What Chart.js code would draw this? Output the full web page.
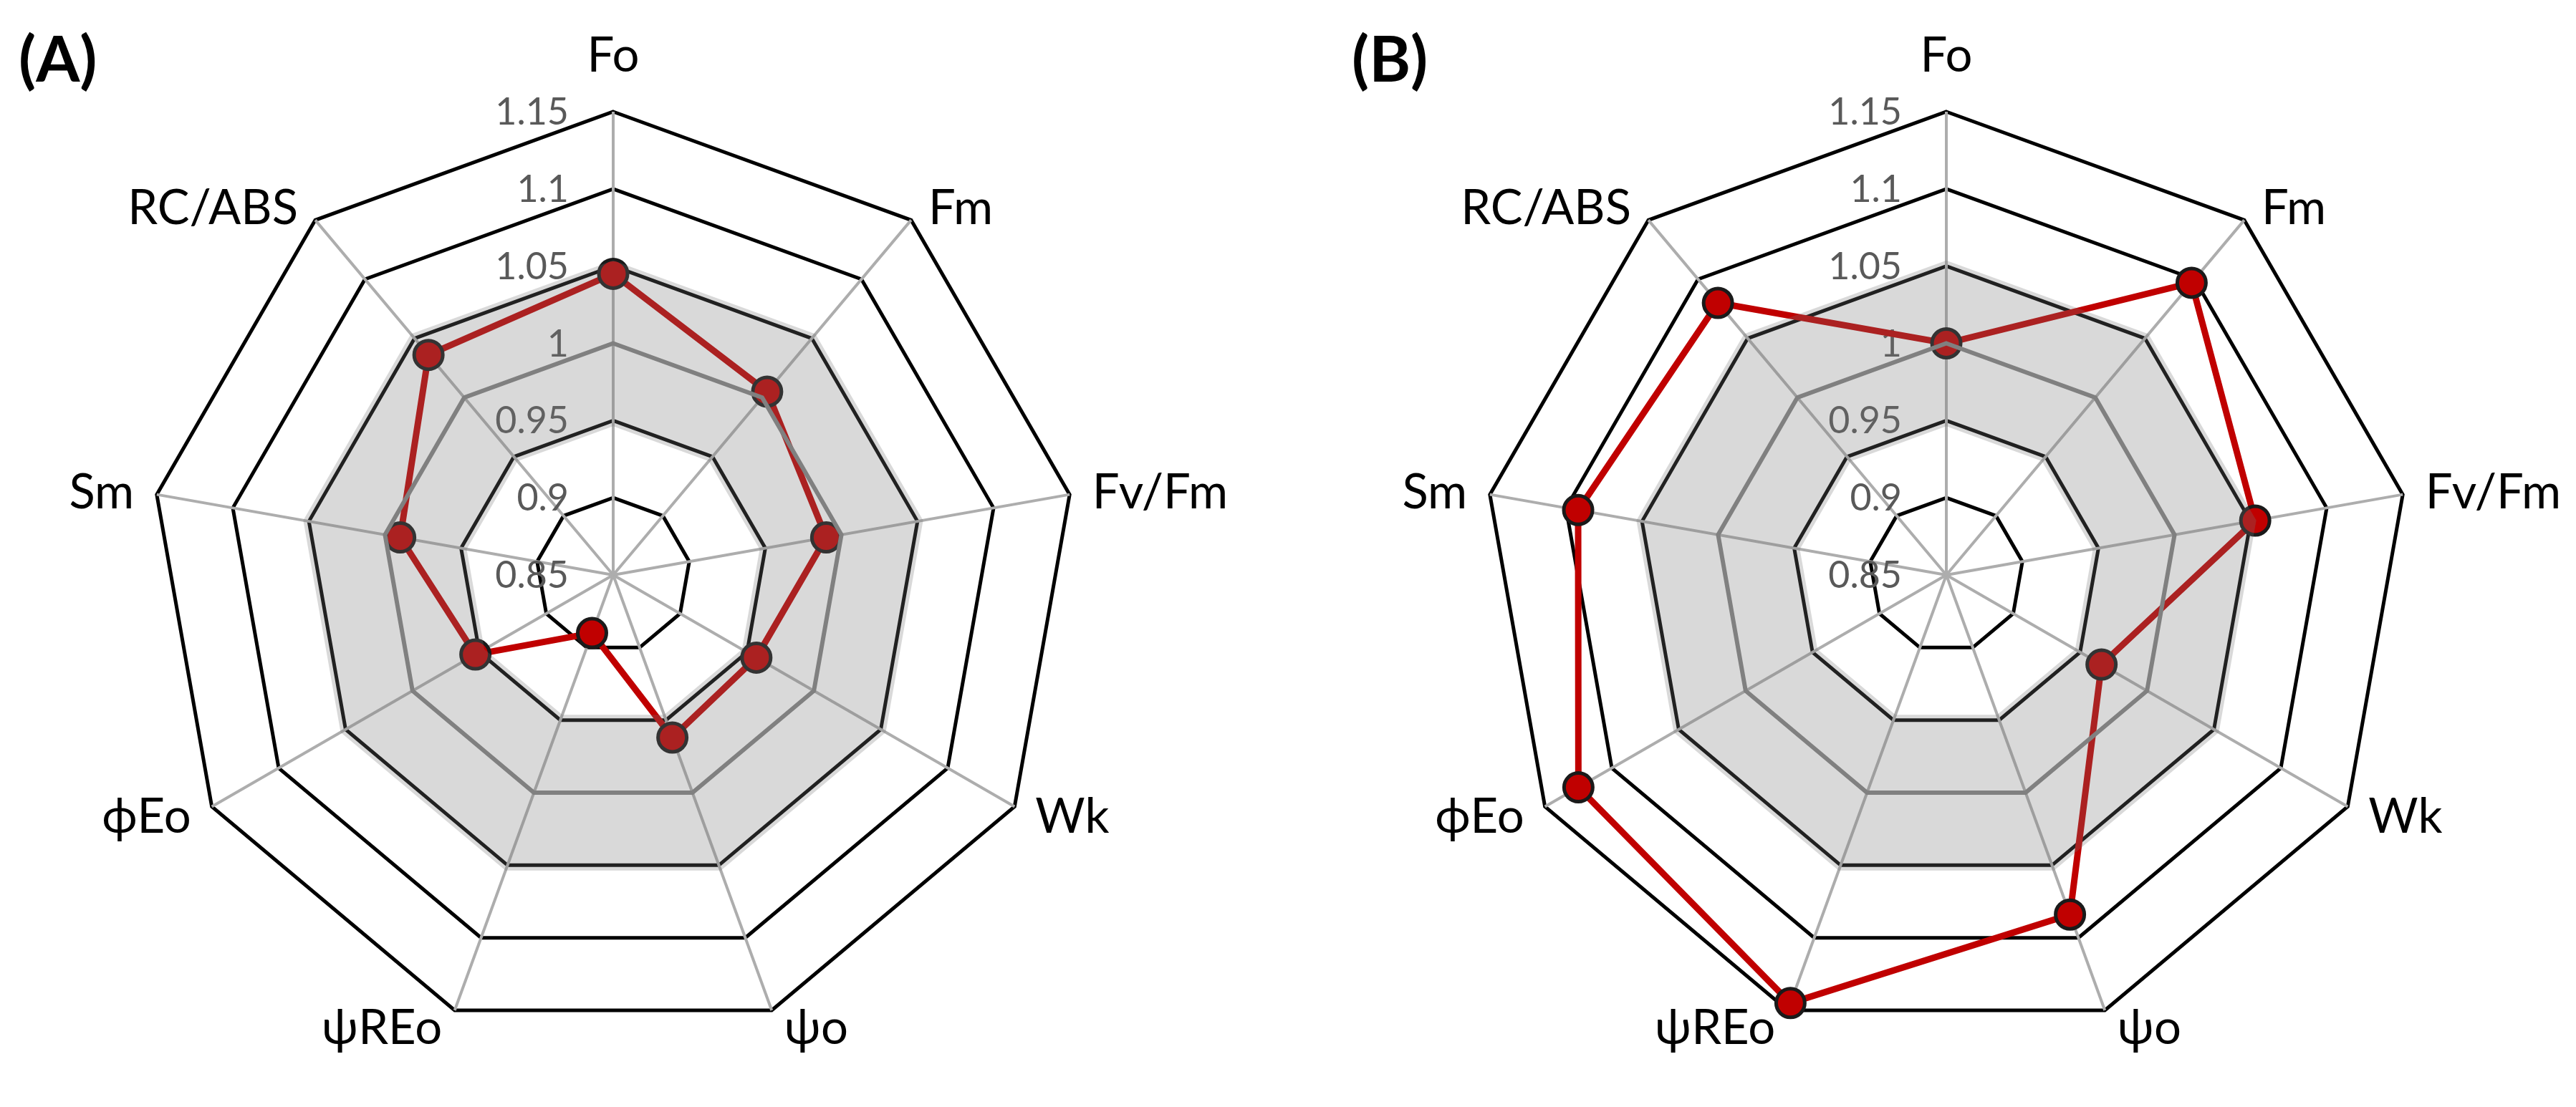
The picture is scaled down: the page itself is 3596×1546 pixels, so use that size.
<!DOCTYPE html>
<html>
<head>
<meta charset="utf-8">
<title>Radar charts (A) and (B)</title>
<script src="https://cdn.jsdelivr.net/npm/chart.js@4.4.1/dist/chart.umd.min.js"></script>
<style>
  html, body { margin: 0; padding: 0; background: #fff; }
  #wrap { position: relative; width: 3596px; height: 1546px; overflow: hidden; }
  canvas { position: absolute; top: 0; }
  #chartA { left: 0; }
  #chartB { left: 1798px; }
</style>
</head>
<body>
<div id="wrap">
  <canvas id="chartA" width="1798" height="1546"></canvas>
  <canvas id="chartB" width="1798" height="1546"></canvas>
</div>
<script>
const categories = ['Fo', 'Fm', 'Fv/Fm', 'Wk', 'ψo', 'ψREo', 'ϕEo', 'Sm', 'RC/ABS'];
const seriesA = [1.045, 1.005, 0.99, 0.957, 0.962, 0.89, 0.953, 0.99, 1.036];
const seriesB = [1.0, 1.097, 1.053, 0.966, 1.084, 1.145, 1.125, 1.092, 1.08];
const tickValues = [0.85, 0.9, 0.95, 1, 1.05, 1.1, 1.15];
const tickLabels = ['0.85', '0.9', '0.95', '1', '1.05', '1.1', '1.15'];
const bandLow = 0.95;
const bandHigh = 1.05;
const refLine = 1;

const labelFont = '67px Lato, "Noto Sans", "DejaVu Sans", sans-serif';

// extra drawing: tick labels, the grey band, the 1.0 line, point labels, panel letter
const extras = {
    id: 'extras',
    beforeDatasetsDraw(chart) {
        const r = chart.scales.r;
        const ctx = chart.ctx;
        ctx.save();
        ctx.font = '52px Lato, "Noto Sans", sans-serif';
        ctx.fillStyle = '#595959';
        ctx.textAlign = 'right';
        ctx.textBaseline = 'alphabetic';
        tickValues.forEach((v, i) => {
            const y = r.yCenter - r.getDistanceFromCenterForValue(v);
            ctx.fillText(tickLabels[i], r.xCenter - 62, y + 18);
        });
        ctx.restore();
    },
    afterDatasetsDraw(chart) {
        const r = chart.scales.r;
        const ctx = chart.ctx;
        const n = chart.data.labels.length;
        const poly = (dist) => {
            for (let i = 0; i < n; i++) {
                const p = r.getPointPosition(i, dist);
                if (i === 0) ctx.moveTo(p.x, p.y); else ctx.lineTo(p.x, p.y);
            }
            ctx.closePath();
        };
        ctx.save();
        ctx.beginPath();
        poly(r.getDistanceFromCenterForValue(bandHigh) + 8);
        poly(r.getDistanceFromCenterForValue(bandLow) - 8);
        ctx.fillStyle = 'rgba(120,120,120,0.28)';
        ctx.fill('evenodd');

        ctx.beginPath();
        poly(r.getDistanceFromCenterForValue(refLine));
        ctx.strokeStyle = '#808080';
        ctx.lineWidth = 6;
        ctx.stroke();
        ctx.restore();
    },
    afterDraw(chart, args, opts) {
        const r = chart.scales.r;
        const ctx = chart.ctx;
        const n = chart.data.labels.length;
        const outer = r.getDistanceFromCenterForValue(r.max);
        ctx.save();
        ctx.font = labelFont;
        ctx.fillStyle = '#000';
        ctx.textBaseline = 'alphabetic';
        chart.data.labels.forEach((lab, i) => {
            const a = i * 2 * Math.PI / n;
            const s = Math.sin(a), c = Math.cos(a);
            const p = r.getPointPosition(i, outer);
            if (Math.abs(s) < 0.05) {
                ctx.textAlign = 'center';
                ctx.fillText(lab, p.x, p.y - 56);
            } else {
                const gap = 10 + 22 * Math.abs(s);
                ctx.textAlign = s > 0 ? 'left' : 'right';
                ctx.fillText(lab, p.x + (s > 0 ? gap : -gap), p.y - 24 * c + 24);
            }
        });
        ctx.font = 'bold 88px Lato, "Noto Sans", sans-serif';
        ctx.textAlign = 'left';
        ctx.fillText(opts.letter, opts.letterX, 114);
        ctx.restore();
    }
};

const makeChart = (id, data, letter, letterX, padLeft, padRight) => {
    const ctx = document.getElementById(id).getContext('2d');
    return new Chart(ctx, {
        type: 'radar',
        data: {
            labels: categories,
            datasets: [{
                data: data,
                borderColor: '#c00000',
                borderWidth: 9,
                backgroundColor: 'rgba(0,0,0,0)',
                fill: false,
                tension: 0,
                pointRadius: 20,
                pointHoverRadius: 20,
                pointBackgroundColor: '#c00000',
                pointBorderColor: '#1a1a1a',
                pointBorderWidth: 5
            }]
        },
        options: {
            responsive: false,
            animation: false,
            devicePixelRatio: 1,
            layout: { padding: { left: padLeft, right: padRight, top: 156, bottom: 96 } },
            plugins: {
                legend: { display: false },
                tooltip: { enabled: false },
                extras: { letter: letter, letterX: letterX }
            },
            scales: {
                r: {
                    min: 0.85,
                    max: 1.15,
                    ticks: { display: false, stepSize: 0.05 },
                    pointLabels: { display: false },
                    grid: {
                        circular: false,
                        color: (c) => Math.abs(c.tick.value - refLine) < 1e-6 ? 'rgba(0,0,0,0)' : '#000',
                        lineWidth: 5
                    },
                    angleLines: { color: '#adadad', lineWidth: 4 }
                }
            }
        },
        plugins: [extras]
    });
};

makeChart('chartA', seriesA, '(A)', 26, 209, 295);
makeChart('chartB', seriesB, '(B)', 89, 272, 232);
</script>
</body>
</html>
